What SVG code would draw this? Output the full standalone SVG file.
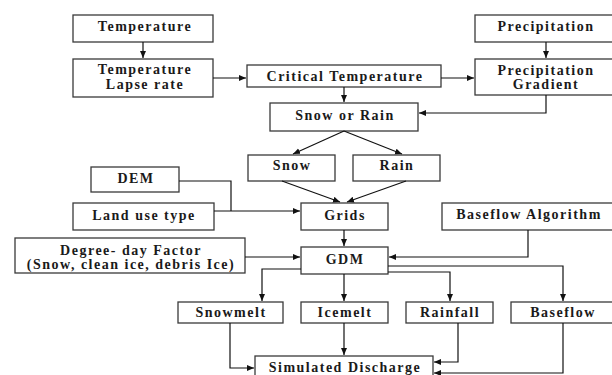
<svg xmlns="http://www.w3.org/2000/svg" width="612" height="375" viewBox="0 0 612 375">
<style>
.box{fill:#fff;stroke:#3a3a3a;stroke-width:1.3}
.t{font-family:"Liberation Serif","Times New Roman",serif;font-weight:bold;font-size:14px;letter-spacing:1.5px;fill:#1a1a1a;text-anchor:middle}
.c{fill:none;stroke:#111;stroke-width:1.2}
</style>
<defs>
<marker id="ah" markerWidth="8" markerHeight="8" refX="7" refY="4" orient="auto" markerUnits="userSpaceOnUse">
<path d="M0,1 L7,4 L0,7 Z" fill="#111"/>
</marker>
</defs>
<rect width="612" height="375" fill="#fff"/>
<g id="nodes">
<g id="temperature"><rect class="box" x="73" y="15" width="140" height="27"/><text class="t" x="145" y="31">Temperature</text></g>
<g id="lapse"><rect class="box" x="73" y="59" width="140" height="38"/><text class="t" x="145" y="74">Temperature</text><text class="t" x="145" y="89">Lapse rate</text></g>
<g id="critical"><rect class="box" x="247" y="65" width="194" height="22"/><text class="t" x="345" y="81">Critical Temperature</text></g>
<g id="precipitation"><rect class="box" x="475" y="15" width="140" height="27"/><text class="t" x="546" y="31">Precipitation</text></g>
<g id="gradient"><rect class="box" x="475" y="59" width="140" height="36"/><text class="t" x="546" y="75">Precipitation</text><text class="t" x="546" y="88.5">Gradient</text></g>
<g id="snoworrain"><rect class="box" x="270" y="103" width="148" height="28"/><text class="t" x="345" y="120">Snow or Rain</text></g>
<g id="snow"><rect class="box" x="248" y="155" width="87" height="26"/><text class="t" x="292" y="170">Snow</text></g>
<g id="rain"><rect class="box" x="353" y="155" width="87" height="26"/><text class="t" x="397" y="170">Rain</text></g>
<g id="dem"><rect class="box" x="91" y="167" width="88" height="25"/><text class="t" x="136" y="182.5">DEM</text></g>
<g id="landuse"><rect class="box" x="73" y="203" width="141" height="27"/><text class="t" x="144" y="220">Land use type</text></g>
<g id="grids"><rect class="box" x="301" y="203" width="87" height="27"/><text class="t" x="345" y="219.5">Grids</text></g>
<g id="baseflowalg"><rect class="box" x="442" y="203" width="174" height="27"/><text class="t" x="529" y="219">Baseflow Algorithm</text></g>
<g id="ddf"><rect class="box" x="15" y="238" width="230" height="35"/><text class="t" x="131" y="255">Degree- day Factor</text><text class="t" x="131" y="268.5">(Snow, clean ice, debris Ice)</text></g>
<g id="gdm"><rect class="box" x="301" y="247" width="87" height="27"/><text class="t" x="345" y="264">GDM</text></g>
<g id="snowmelt"><rect class="box" x="178" y="302" width="105" height="21"/><text class="t" x="231" y="317">Snowmelt</text></g>
<g id="icemelt"><rect class="box" x="301" y="302" width="87" height="21"/><text class="t" x="345" y="317">Icemelt</text></g>
<g id="rainfall"><rect class="box" x="406" y="302" width="87" height="21"/><text class="t" x="450" y="317">Rainfall</text></g>
<g id="baseflow"><rect class="box" x="511" y="302" width="104" height="21"/><text class="t" x="563" y="317">Baseflow</text></g>
<g id="discharge"><rect class="box" x="255" y="356" width="178" height="25"/><text class="t" x="345" y="371.5">Simulated Discharge</text></g>
</g>
<g id="connectors">
<path class="c" d="M143,42 V58" marker-end="url(#ah)"/>
<path class="c" d="M546,42 V58" marker-end="url(#ah)"/>
<path class="c" d="M213,78 H246" marker-end="url(#ah)"/>
<path class="c" d="M441,78 H474" marker-end="url(#ah)"/>
<path class="c" d="M344,87 V102" marker-end="url(#ah)"/>
<path class="c" d="M546,95 V113 H419" marker-end="url(#ah)"/>
<path class="c" d="M344,131 L293,154" marker-end="url(#ah)"/>
<path class="c" d="M344,131 L402,154" marker-end="url(#ah)"/>
<path class="c" d="M282,181 L340,202" marker-end="url(#ah)"/>
<path class="c" d="M406,181 L347,202" marker-end="url(#ah)"/>
<path class="c" d="M179,181 H231 V211"/>
<path class="c" d="M214,211 H300" marker-end="url(#ah)"/>
<path class="c" d="M245,257 H300" marker-end="url(#ah)"/>
<path class="c" d="M344,230 V246" marker-end="url(#ah)"/>
<path class="c" d="M528,230 V257 H389" marker-end="url(#ah)"/>
<path class="c" d="M301,269 H262 V301" marker-end="url(#ah)"/>
<path class="c" d="M344,274 V301" marker-end="url(#ah)"/>
<path class="c" d="M388,272 H450 V301" marker-end="url(#ah)"/>
<path class="c" d="M388,266 H563 V301" marker-end="url(#ah)"/>
<path class="c" d="M344,323 V355" marker-end="url(#ah)"/>
<path class="c" d="M230,323 V368 H254" marker-end="url(#ah)"/>
<path class="c" d="M458,323 V362 H434" marker-end="url(#ah)"/>
<path class="c" d="M563,323 V373 H434" marker-end="url(#ah)"/>
</g>
</svg>
